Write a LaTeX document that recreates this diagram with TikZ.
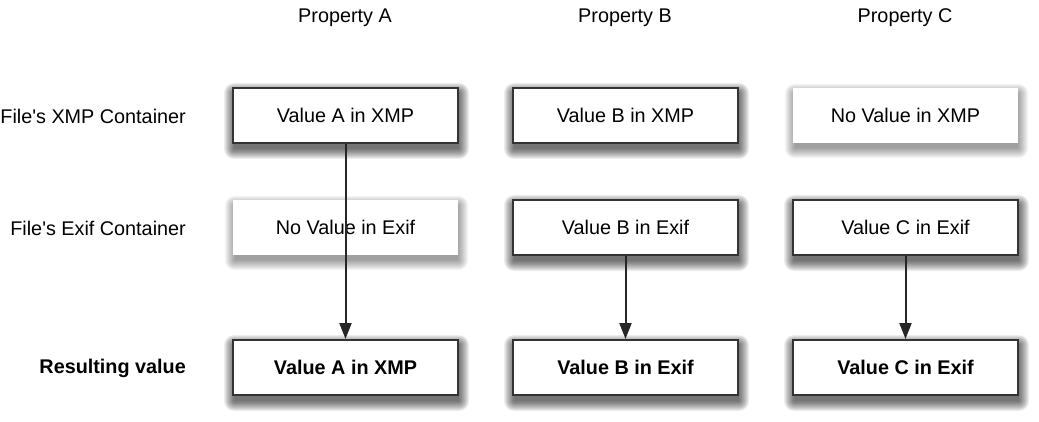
\documentclass[tikz,border=0pt]{standalone}
\usepackage{fontspec}
\setmainfont{Liberation Sans}[Ligatures=TeXOff]
\usetikzlibrary{arrows.meta}
\pgfdeclarelayer{bottom}
\pgfdeclarelayer{shade}
\pgfsetlayers{bottom,shade,main}
\begin{document}
\begin{tikzpicture}[x=1pt,y=-1pt,
  font=\fontsize{19.8}{23}\selectfont,
  valbox/.style={draw=black!80, line width=2pt, fill=white, minimum width=225pt, minimum height=55pt, inner sep=0pt},
  novalbox/.style={draw=none, fill=white, minimum width=225pt, minimum height=55pt, inner sep=0pt},
  boldtxt/.style={font=\fontsize{19.8}{23}\selectfont\bfseries},
  rowlabel/.style={anchor=east, inner sep=0pt},
  hdr/.style={inner sep=0pt},
  shadowlayer/.style={fill=black, fill opacity=#1},
  arr/.style={draw=black!85, line width=2pt, -{Triangle[width=12pt,length=16pt]}}
]
\useasboundingbox (0,0) rectangle (1039,422);
\begin{pgfonlayer}{bottom}
  \fill[white] (0,0) rectangle (1039,422);
\end{pgfonlayer}

% headers
\node[hdr] (hA) at (345,18) {Property A};
\node[hdr] (hB) at (625,18) {Property B};
\node[hdr] (hC) at (905,18) {Property C};

% row labels
\node[rowlabel] (lX) at (186,116) {File's XMP Container};
\node[rowlabel] (lE) at (186,228) {File's Exif Container};
\node[rowlabel,boldtxt] (lR) at (186,368) {Resulting value};

% row 1
\node[valbox] (xA) at (345.5,115.5) {Value A in XMP};
\node[valbox] (xB) at (625.5,115.5) {Value B in XMP};
\node[novalbox] (xC) at (905.5,115.5) {No Value in XMP};

% row 2
\node[novalbox] (eA) at (345.5,227.5) {No Value in Exif};
\node[valbox] (eB) at (625.5,227.5) {Value B in Exif};
\node[valbox] (eC) at (905.5,227.5) {Value C in Exif};

% row 3
\node[valbox,boldtxt] (rA) at (345.5,367.5) {Value A in XMP};
\node[valbox,boldtxt] (rB) at (625.5,367.5) {Value B in Exif};
\node[valbox,boldtxt] (rC) at (905.5,367.5) {Value C in Exif};

% soft drop shadows
\begin{pgfonlayer}{shade}
  \foreach \n/\op in {xA/0.065,xB/0.065,eB/0.065,eC/0.065,rA/0.065,rB/0.065,rC/0.065,xC/0.04,eA/0.04}{
    \foreach \r in {0,1,...,10}{
      \fill[shadowlayer=\op, rounded corners=\r pt]
        ([xshift=2pt-\r pt, yshift=-6pt+\r pt]\n.north west) rectangle
        ([xshift=\r pt, yshift=-5pt-\r pt]\n.south east);
    }
  }
\end{pgfonlayer}

% arrows
\draw[arr] (xA.south) -- (rA.north);
\draw[arr] (eB.south) -- (rB.north);
\draw[arr] (eC.south) -- (rC.north);
\end{tikzpicture}
\end{document}
